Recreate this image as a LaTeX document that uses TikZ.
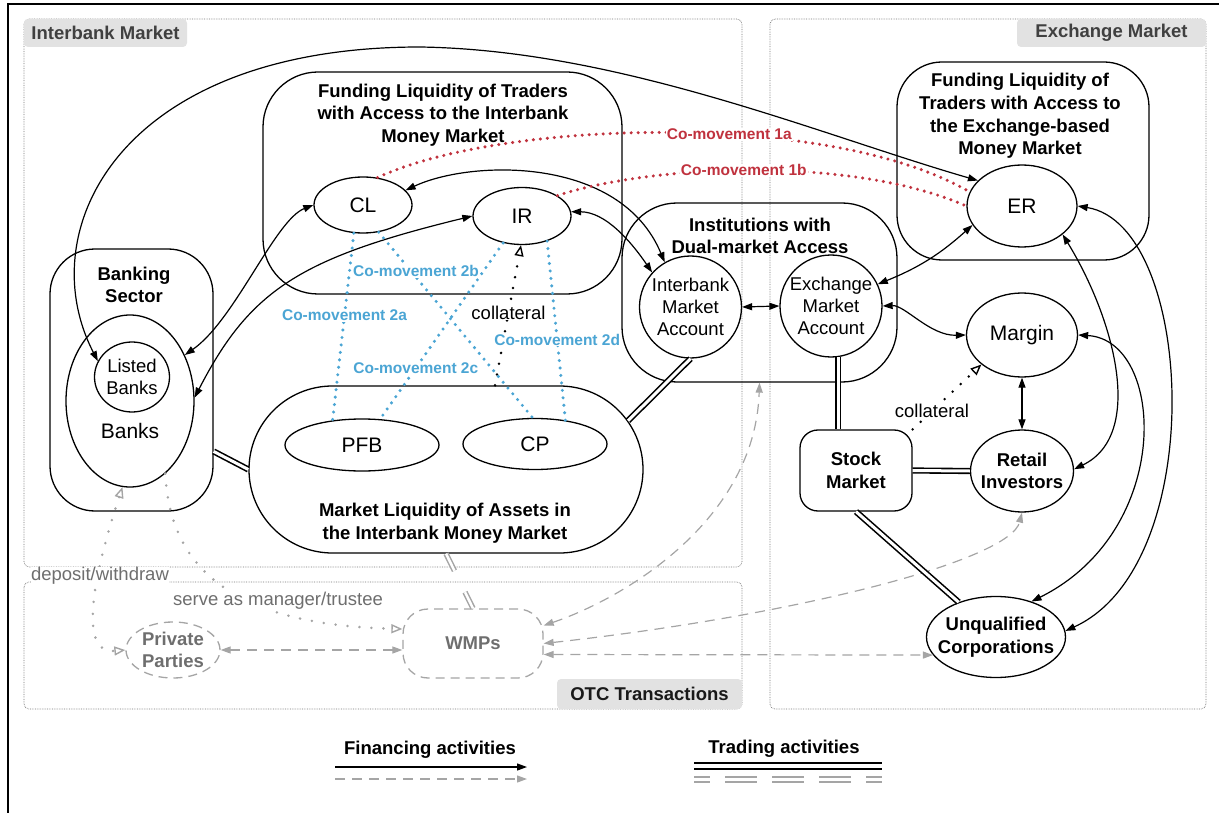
\documentclass[tikz,border=0pt]{standalone}
\usepackage{fontspec}
\setmainfont{Liberation Sans}
\usetikzlibrary{arrows.meta,shapes.geometric,shapes.misc}

\definecolor{moveRed}{RGB}{192,50,62}
\definecolor{moveBlue}{RGB}{75,165,212}
\definecolor{otcGray}{RGB}{165,165,165}
\definecolor{noteGray}{RGB}{110,110,110}
\definecolor{tagGray}{RGB}{226,226,226}

\begin{document}
\begin{tikzpicture}[
    x=1pt, y=1pt,
    >={Triangle[length=10pt, width=7pt]},
    hollow/.tip={Triangle[open, length=11pt, width=9pt, line width=1.4pt]},
    every node/.style={anchor=center, align=center, inner sep=0pt},
    nametext/.style={font=\fontsize{21}{24}\selectfont},
    plaintext/.style={font=\fontsize{18.5}{21.7}\selectfont},
    titletext/.style={font=\fontsize{18.5}{22.7}\selectfont\bfseries},
    movelabel/.style={fill=white, inner sep=1pt, font=\fontsize{15.5}{18}\selectfont\bfseries},
    market/.style={draw=black!55, densely dotted, line width=0.7pt, rounded corners=5pt},
    tag/.style={fill=tagGray, rounded corners=4pt, font=\fontsize{18.5}{22}\selectfont\bfseries},
    region/.style={draw, line width=1.3pt, rounded corners=#1},
    region/.default=50pt,
    pill/.style={draw, line width=1.3pt, rounded rectangle},
    oval/.style={draw, line width=1.3pt, ellipse},
    disc/.style={draw, line width=1.3pt, circle},
    otcnode/.style={draw=otcGray, line width=1.3pt, dash pattern=on 9pt off 6pt, text=noteGray},
    arrow/.style={line width=1.2pt},
    otcarrow/.style={draw=otcGray, line width=1.2pt, dash pattern=on 10pt off 7pt},
    trade/.style={double, double distance=3pt, line width=1.6pt},
    otctrade/.style={draw=otcGray, double=white, double distance=2.5pt, line width=1.5pt},
    pledge/.style={line width=2.8pt, line cap=round, dash pattern=on 0pt off 11pt, -hollow},
    redDots/.style={draw=moveRed, line width=3.4pt, line cap=round, dash pattern=on 0pt off 7pt},
    blueDots/.style={draw=moveBlue, line width=3.4pt, line cap=round, dash pattern=on 0pt off 7.5pt},
    grayDots/.style={draw=otcGray, line width=2.8pt, line cap=round, dash pattern=on 0pt off 12pt}
    ]

% Frame
\useasboundingbox (0,0) rectangle (1219,-813);
\draw[line width=2pt] (8,-830) -- (8,-4) -- (1230,-4);

% Markets
\draw[market] (24,-19) rectangle (742,-567);
\draw[market] (770,-19) rectangle (1206,-709);
\draw[market] (24,-582) rectangle (742,-709);
\node[tag, text=black!75, minimum width=163pt, minimum height=28pt] (Interbank Tag) at (105.5,-33) {Interbank Market};
\node[tag, text=black!75, minimum width=189pt, minimum height=28pt] (Exchange Tag) at (1111.5,-33) {Exchange Market};
\node[tag, text=black!90, minimum width=185pt, minimum height=30pt] (OTC Tag) at (649.5,-694) {OTC Transactions};

% Regions
\node[region=55pt, minimum width=359pt, minimum height=222pt] (IB Funding) at (442.5,-183) {};
\node[titletext] (IB Funding Title) at (443,-115) {Funding Liquidity of Traders\\with Access to the Interbank\\Money Market};
\node[region=45pt, minimum width=252pt, minimum height=198pt] (EX Funding) at (1023,-161) {};
\node[titletext] (EX Funding Title) at (1020,-116) {Funding Liquidity of\\Traders with Access to\\the Exchange-based\\Money Market};
\node[region=55pt, minimum width=275pt, minimum height=179pt] (Dual Access) at (759.5,-292.5) {};
\node[titletext] (Dual Access Title) at (760,-236) {Institutions with\\Dual-market Access};
\node[pill, minimum width=394pt, minimum height=167pt] (Market Liquidity) at (446,-469.5) {};
\node[titletext] (Market Liquidity Title) at (445,-523) {Market Liquidity of Assets in\\the Interbank Money Market};
\node[region=45pt, minimum width=163pt, minimum height=262pt] (Banking Sector) at (131.5,-380) {};
\node[titletext] (Banking Title) at (134,-285) {Banking\\Sector};

% Interbank side
\node[oval, minimum width=128pt, minimum height=172pt] (Banks) at (130,-401) {};
\node[nametext] (Banks Label) at (130,-431) {Banks};
\node[oval, plaintext, minimum width=75pt, minimum height=70pt] (Listed Banks) at (132,-377) {Listed\\Banks};
\node[oval, nametext, minimum width=98pt, minimum height=56pt] (CL) at (363,-205) {CL};
\node[oval, nametext, minimum width=98pt, minimum height=57pt] (IR) at (522,-216) {IR};
\node[oval, nametext, minimum width=154pt, minimum height=52pt] (PFB) at (362,-445) {PFB};
\node[oval, nametext, minimum width=144pt, minimum height=51pt] (CP) at (535,-444) {CP};
\node[disc, plaintext, minimum size=102pt] (IB Account) at (690.5,-307) {Interbank\\Market\\Account};
\node[disc, plaintext, minimum size=102pt] (EX Account) at (831,-306) {Exchange\\Market\\Account};

% Exchange side
\node[oval, nametext, minimum width=110pt, minimum height=82pt] (ER) at (1022,-206) {ER};
\node[oval, nametext, minimum width=111pt, minimum height=84pt] (Margin) at (1022,-335) {Margin};
\node[oval, minimum width=103pt, minimum height=82pt, label={[titletext]center:Retail\\Investors}] (Retail Investors) at (1022,-471) {};
\node[oval, minimum width=139pt, minimum height=81pt, label={[titletext]center:Unqualified\\Corporations}] (Unqualified) at (996,-637) {};
\node[region=18pt, titletext, minimum width=112pt, minimum height=81pt] (Stock Market) at (856,-470.5) {Stock\\Market};

% OTC side
\node[oval, otcnode, titletext, minimum width=94pt, minimum height=56pt] (Private Parties) at (173,-650) {Private\\Parties};
\node[region=25pt, otcnode, titletext, minimum width=140pt, minimum height=69pt] (WMPs) at (473,-643.5) {WMPs};

% Financing activities
\draw[arrow, <->] (Listed Banks.155) .. controls (30,-230) and (120,-47) .. (420,-47)
    .. controls (620,-50) and (820,-135) .. (ER.150);
\draw[arrow, <->] (CL.west) .. controls (275,-220) and (235,-320) .. (Banks.40);
\draw[arrow, <->] (IR.west) .. controls (300,-258) and (250,-290) .. (Banks.3);
\draw[arrow, <->] (CL.19) .. controls (470,-160) and (620,-155) .. (IB Account.120);
\draw[arrow, <->] (IR.5) .. controls (605,-212) and (630,-240) .. (IB Account.138);
\draw[arrow, <->] (IB Account.east) -- (EX Account.west);
\draw[arrow, <->] (EX Account.25) to[bend right=10] (ER.201);
\draw[arrow, <->] (EX Account.0) .. controls (905,-305) and (930,-336) .. (Margin.west);
\draw[arrow, <->] (Margin.south) -- (Retail Investors.north);
\draw[arrow, <->] (ER.-35) .. controls (1115,-320) and (1145,-435) .. (Retail Investors.2);
\draw[arrow, <->] (Margin.east) .. controls (1165,-340) and (1175,-530) .. (Unqualified.45);
\draw[arrow, <->] (ER.east) .. controls (1195,-225) and (1210,-565) .. (Unqualified.5);

% Collateral
\draw[pledge] ([xshift=49pt]Market Liquidity.north) -- node[plaintext, fill=white, inner sep=1pt, pos=0.52] (Collateral IR) {collateral} (IR.268);
\draw[pledge] (Stock Market.north east) -- node[plaintext, fill=white, inner sep=1pt, pos=0.28] (Collateral Margin) {collateral} (Margin.216);

% Co-movements
\draw[redDots] (CL.62) .. controls (500,-120) and (830,-110) .. node[movelabel, text=moveRed, pos=0.59] (Move 1a) {Co-movement 1a} (ER.165);
\draw[redDots] (IR.30) .. controls (650,-165) and (850,-155) .. node[movelabel, text=moveRed, pos=0.48] (Move 1b) {Co-movement 1b} (ER.180);
\draw[blueDots] (CL.252) -- node[movelabel, text=moveBlue, pos=0.44] (Move 2a) {Co-movement 2a} (PFB.140);
\draw[blueDots] (CL.300) -- node[movelabel, text=moveBlue, pos=0.21, xshift=5pt] (Move 2b) {Co-movement 2b} (CP.95);
\draw[blueDots] (IR.235) -- node[movelabel, text=moveBlue, pos=0.71] (Move 2c) {Co-movement 2c} (PFB.55);
\draw[blueDots] (IR.315) -- node[movelabel, text=moveBlue, pos=0.55] (Move 2d) {Co-movement 2d} (CP.38);

% OTC links
\draw[otcarrow, <->] (Private Parties.east) -- (Private Parties.east -| WMPs.west);
\draw[otcarrow, <->] ([yshift=18pt]WMPs.east) .. controls (625,-598) and (755,-520) .. (Dual Access.south);
\draw[otcarrow, <->] (WMPs.east) .. controls (800,-615) and (1010,-560) .. (Retail Investors.south);
\draw[otcarrow, <->] ([yshift=-11pt]WMPs.east) -- (Unqualified.196);
\draw[grayDots, hollow-hollow]
    (Banks.265) .. controls (105,-540) and (70,-655) .. (Private Parties.west);
\draw[grayDots, -hollow]
    (Banks.296) .. controls (170,-580) and (250,-625) .. ([yshift=14.5pt]WMPs.west);
\node[plaintext, text=noteGray, fill=white] (Deposit Label) at (100,-575.5) {deposit/withdraw};
\node[plaintext, text=noteGray, fill=white, inner sep=1pt] (Serve Label) at (278,-601) {serve as manager/trustee};

% Trading activities
\draw[trade] (Banking Sector.-41.5) -- (Market Liquidity.west);
\draw[trade] (Market Liquidity.15) -- (IB Account.south);
\draw[trade] (EX Account.-82) -- (EX Account.-82 |- Stock Market.north);
\draw[trade] (Stock Market.east) -- (Retail Investors.west);
\draw[trade] (Stock Market.south) -- (Unqualified.137);
\draw[otctrade, dash pattern=on 19pt off 24pt] (Market Liquidity.south) -- (WMPs.north);

% Legend
\node[titletext] (Financing Label) at (430,-750) {Financing activities};
\coordinate (Fin A) at (335,-767);
\coordinate (Fin B) at (527,-767);
\coordinate (Fin C) at (335,-779);
\coordinate (Fin D) at (527,-779);
\draw[arrow, ->] (Fin A) -- (Fin B);
\draw[otcarrow, ->] (Fin C) -- (Fin D);
\node[titletext] (Trading Label) at (784,-749) {Trading activities};
\coordinate (Trade A) at (694,-766);
\coordinate (Trade B) at (882,-766);
\coordinate (Trade C) at (694,-779.5);
\coordinate (Trade D) at (882,-779.5);
\draw[trade, line width=2pt, double distance=4pt] (Trade A) -- (Trade B);
\draw[otctrade, line width=2pt, double distance=3.5pt, dash pattern=on 31.5pt off 15.5pt, dash phase=16pt] (Trade C) -- (Trade D);

\end{tikzpicture}
\end{document}
